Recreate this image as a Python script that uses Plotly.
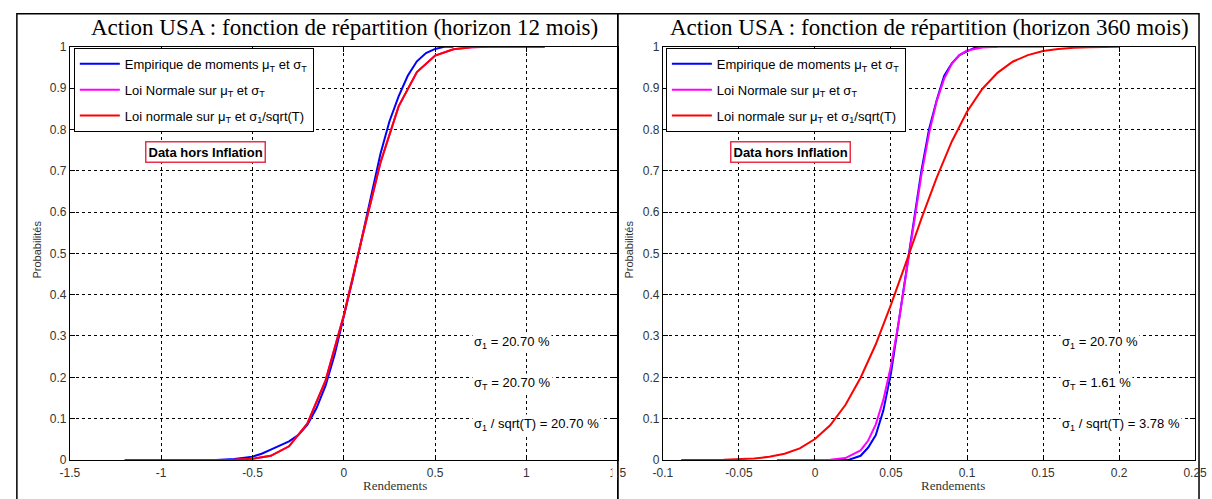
import plotly.graph_objects as go

# ---------------- data ----------------
# Left panel : horizon 12 mois
left_blue_x = [-0.70, -0.60, -0.50, -0.45, -0.40, -0.35, -0.30, -0.25, -0.20, -0.15, -0.10, -0.05,
               0.00, 0.05, 0.10, 0.15, 0.20, 0.25, 0.30, 0.35, 0.40, 0.45, 0.50, 0.55, 0.60]
left_blue_y = [0.000, 0.002, 0.008, 0.015, 0.025, 0.035, 0.045, 0.060, 0.085, 0.125, 0.180, 0.255,
               0.345, 0.440, 0.540, 0.640, 0.740, 0.820, 0.880, 0.930, 0.965, 0.985, 0.995, 1.000, 1.000]

left_norm_x = [-1.20, -1.00, -0.80, -0.60, -0.50, -0.40, -0.30, -0.20, -0.10, 0.00, 0.10, 0.20,
               0.30, 0.40, 0.50, 0.60, 0.70, 0.80, 1.00, 1.10]
left_magenta_y = [0.000, 0.000, 0.000, 0.0005, 0.003, 0.010, 0.033, 0.088, 0.192, 0.350, 0.538, 0.719,
                  0.856, 0.939, 0.979, 0.994, 0.999, 1.000, 1.000, 1.000]
left_red_y = [0.000, 0.000, 0.000, 0.0005, 0.003, 0.010, 0.033, 0.088, 0.192, 0.350, 0.538, 0.719,
              0.856, 0.939, 0.979, 0.994, 0.999, 1.000, 1.000, 1.000]

# Right panel : horizon 360 mois
right_blue_x = [0.000, 0.022, 0.030, 0.035, 0.040, 0.045, 0.050, 0.055, 0.060, 0.065, 0.070, 0.075,
                0.080, 0.085, 0.090, 0.095, 0.100, 0.105, 0.110, 0.120]
right_blue_y = [0.000, 0.000, 0.010, 0.030, 0.060, 0.120, 0.210, 0.330, 0.460, 0.580, 0.700, 0.800,
                0.870, 0.930, 0.960, 0.980, 0.990, 0.998, 1.000, 1.000]

right_magenta_x = [-0.025, 0.010, 0.020, 0.030, 0.035, 0.040, 0.045, 0.050, 0.055, 0.060, 0.065, 0.070,
                   0.075, 0.080, 0.085, 0.090, 0.095, 0.100, 0.110, 0.120, 0.150]
right_magenta_y = [0.000, 0.0006, 0.0045, 0.023, 0.047, 0.086, 0.146, 0.228, 0.332, 0.451, 0.574, 0.690,
                   0.790, 0.868, 0.923, 0.959, 0.980, 0.991, 0.9986, 1.000, 1.000]

right_red_x = [-0.088, -0.060, -0.040, -0.030, -0.020, -0.010, 0.000, 0.010, 0.020, 0.030, 0.040, 0.050,
               0.060, 0.070, 0.080, 0.090, 0.100, 0.110, 0.120, 0.130, 0.140, 0.150, 0.160, 0.170,
               0.180, 0.200]
right_red_y = [0.000, 0.0006, 0.0035, 0.0075, 0.015, 0.028, 0.0505, 0.084, 0.133, 0.199, 0.280, 0.376,
               0.479, 0.584, 0.683, 0.771, 0.843, 0.898, 0.937, 0.964, 0.980, 0.990, 0.995, 0.998,
               0.999, 1.000]

# tick labels
left_xticks = [-1.5, -1.0, -0.5, 0.0, 0.5, 1.0, 1.5]
left_xtext = ["-1.5", "-1", "-0.5", "0", "0.5", "1", "1.5"]
right_xticks = [-0.1, -0.05, 0.0, 0.05, 0.1, 0.15, 0.2, 0.25]
right_xtext = ["-0.1", "-0.05", "0", "0.05", "0.1", "0.15", "0.2", "0.25"]
yticks = [0, 0.1, 0.2, 0.3, 0.4, 0.5, 0.6, 0.7, 0.8, 0.9, 1.0]
ytext = ["0", "0.1", "0.2", "0.3", "0.4", "0.5", "0.6", "0.7", "0.8", "0.9", "1"]

names = ["Empirique de moments μ<sub>T</sub> et σ<sub>T</sub>",
         "Loi Normale sur μ<sub>T</sub> et σ<sub>T</sub>",
         "Loi normale sur μ<sub>T</sub> et σ<sub>1</sub>/sqrt(T)"]
titles = ["Action USA : fonction de répartition (horizon 12 mois)",
          "Action USA : fonction de répartition (horizon 360 mois)"]
left_sigmas = ["σ<sub>1</sub> = 20.70 %", "σ<sub>T</sub> = 20.70 %", "σ<sub>1</sub> / sqrt(T) = 20.70 %"]
right_sigmas = ["σ<sub>1</sub> = 20.70 %", "σ<sub>T</sub> = 1.61 %", "σ<sub>1</sub> / sqrt(T) = 3.78 %"]

# ---------------- figure ----------------
W, H = 1212, 499
BLUE, MAG, RED = "#0000ff", "#ff00ff", "#ff0000"
FONT = "Arial, Liberation Sans, sans-serif"
SERIF = "Liberation Serif, Times New Roman, serif"

fig = go.Figure()

def add(x, y, color, name, xa, ya, leg, grp):
    fig.add_trace(go.Scatter(x=x, y=y, mode="lines", line=dict(color=color, width=2),
                             name=name, xaxis=xa, yaxis=ya, legend=leg, legendgroup=grp))

add(left_blue_x, left_blue_y, BLUE, names[0], "x", "y", "legend", "a")
add(left_norm_x, left_magenta_y, MAG, names[1], "x", "y", "legend", "b")
add(left_norm_x, left_red_y, RED, names[2], "x", "y", "legend", "c")
add(right_blue_x, right_blue_y, BLUE, names[0], "x2", "y2", "legend2", "d")
add(right_magenta_x, right_magenta_y, MAG, names[1], "x2", "y2", "legend2", "e")
add(right_red_x, right_red_y, RED, names[2], "x2", "y2", "legend2", "f")

def px(v):
    return v / W

def py(v):
    return 1 - v / H

axis_common = dict(showline=True, linecolor="black", linewidth=1, mirror="ticks",
                   ticks="inside", ticklen=5, tickcolor="black",
                   showgrid=True, gridcolor="black", gridwidth=1, griddash="3px,3px",
                   zeroline=False, tickfont=dict(family=FONT, size=12, color="#333333"))

ydom = [py(466), py(41)]
legend_common = dict(xanchor="left", yanchor="top", bgcolor="white", bordercolor="black",
                     borderwidth=1, font=dict(family=FONT, size=13, color="black"),
                     tracegroupgap=6, itemwidth=40)
fig.update_layout(
    width=W, height=H, margin=dict(l=0, r=0, t=0, b=0),
    paper_bgcolor="white", plot_bgcolor="white", showlegend=True,
    xaxis=dict(domain=[px(61), px(619)], range=[-1.5, 1.5], anchor="y",
               tickvals=left_xticks, ticktext=left_xtext, ticklabelstandoff=2, **axis_common),
    yaxis=dict(domain=ydom, range=[0, 1], anchor="x",
               tickvals=yticks, ticktext=ytext, **axis_common),
    xaxis2=dict(domain=[px(665), px(1207)], range=[-0.1, 0.25], anchor="y2",
                tickvals=right_xticks, ticktext=right_xtext, ticklabelstandoff=2, **axis_common),
    yaxis2=dict(domain=ydom, range=[0, 1], anchor="x2",
                tickvals=yticks, ticktext=ytext, **axis_common),
    legend=dict(x=px(65), y=py(42), **legend_common),
    legend2=dict(x=px(668), y=py(42), **legend_common),
)

# frames around each panel (bottom edge lies below the visible picture)
fig.add_shape(type="rect", xref="paper", yref="paper", x0=px(7), x1=px(619), y0=py(510), y1=py(7),
              line=dict(color="black", width=1.5), layer="below")
fig.add_shape(type="rect", xref="paper", yref="paper", x0=px(619), x1=px(1211), y0=py(510), y1=py(7),
              line=dict(color="black", width=1.5), layer="below")

anns = []
for cx, t in zip([341, 936], titles):
    anns.append(dict(x=px(cx), y=py(21), xref="paper", yref="paper", text=t, showarrow=False,
                     font=dict(family=SERIF, size=23, color="black"),
                     xanchor="center", yanchor="middle"))
for rx in [392, 960]:
    anns.append(dict(x=px(rx), y=py(492), xref="paper", yref="paper", text="Rendements", showarrow=False,
                     font=dict(family=SERIF, size=13, color="#333333"), xanchor="center", yanchor="middle"))
for lx in [27, 630]:
    anns.append(dict(x=px(lx), y=py(250), xref="paper", yref="paper", text="Probabilités", showarrow=False,
                     textangle=-90, font=dict(family=FONT, size=11, color="#333333"),
                     xanchor="center", yanchor="middle"))
for bx in [199, 795]:
    anns.append(dict(x=px(bx), y=py(149), xref="paper", yref="paper", text="<b>Data hors Inflation</b>",
                     showarrow=False, font=dict(family=FONT, size=13, color="black"),
                     bordercolor="#e8304a", borderwidth=1.5, borderpad=2, bgcolor="white",
                     xanchor="center", yanchor="middle"))
for sx, texts in [(471, left_sigmas), (1069, right_sigmas)]:
    for sy, t in zip([345, 387, 430], texts):
        anns.append(dict(x=px(sx), y=py(sy), xref="paper", yref="paper", text=t, showarrow=False,
                         font=dict(family=FONT, size=13, color="black"), bgcolor="white",
                         xanchor="left", yanchor="middle"))
fig.update_layout(annotations=anns)

# white mask clipping the last left tick label at the panel border
fig.add_shape(type="rect", xref="paper", yref="paper", x0=px(613.5), x1=px(618.3), y0=py(487), y1=py(470),
              fillcolor="white", line=dict(width=0), layer="above")

fig.write_html("out.html")
